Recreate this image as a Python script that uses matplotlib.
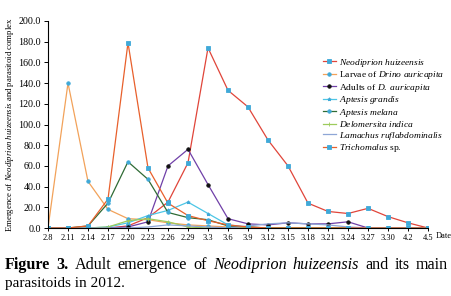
import matplotlib
matplotlib.use('Agg')
import matplotlib.pyplot as plt
import numpy as np

plt.rcParams['font.family'] = ['Liberation Serif', 'DejaVu Serif']
plt.rcParams['mathtext.fontset'] = 'custom'
plt.rcParams['mathtext.rm'] = 'Liberation Serif'
plt.rcParams['mathtext.it'] = 'Liberation Serif:italic'
plt.rcParams['mathtext.bf'] = 'Liberation Serif:bold'

dates = ['2.8', '2.11', '2.14', '2.17', '2.20', '2.23', '2.26', '2.29', '3.3', '3.6',
         '3.9', '3.12', '3.15', '3.18', '3.21', '3.24', '3.27', '3.30', '4.2', '4.5']

neodiprion = [0, 0, 0, 0, 2, 10, 25, 63, 174, 133, 117, 85, 60, 24, 16, 14, 19, 11, 5, 0]
drino_larvae = [0, 140, 45, 18, 9, 8, 5, 3, 2, 1, 0, 0, 0, 0, 0, 0, 0, 0, 0, 0]
drino_adults = [0, 0, 0, 0, 1, 6, 60, 76, 42, 9, 4, 3, 5, 4, 4, 6, 0, 0, 0, 0]
aptesis_grandis = [0, 0, 0, 1, 5, 12, 17, 25, 14, 3, 1, 0, 0, 0, 0, 0, 0, 0, 0, 0]
aptesis_melana = [0, 0, 2, 24, 64, 47, 15, 10, 8, 2, 1, 0, 0, 0, 0, 0, 0, 0, 0, 0]
delomersita = [0, 0, 0, 1, 7, 9, 6, 1, 0, 0, 0, 0, 0, 0, 0, 0, 0, 0, 0, 0]
lamachus = [0, 0, 0, 0, 0, 1, 3, 2, 1, 0, 2, 4, 5, 4, 3, 1, 0, 0, 0, 0]
trichomalus = [0, 0, 2, 28, 179, 58, 24, 12, 7, 3, 1, 0, 0, 0, 0, 0, 0, 0, 0, 0]

series = [
    (neodiprion, r'$\mathit{Neodiprion\ huizeensis}$', '#e0453a', 's', '#3fa9d8'),
    (drino_larvae, r'Larvae of $\mathit{Drino\ auricapita}$', '#f2a25a', 'o', '#3fa9d8'),
    (drino_adults, r'Adults of $\mathit{D.\ auricapita}$', '#7040a8', 'o', '#111111'),
    (aptesis_grandis, r'$\mathit{Aptesis\ grandis}$', '#4cc6e6', '*', '#3fa9d8'),
    (aptesis_melana, r'$\mathit{Aptesis\ melana}$', '#2f6b35', 'o', '#3fa9d8'),
    (delomersita, r'$\mathit{Delomersita\ indica}$', '#9dcb5c', '+', '#9dcb5c'),
    (lamachus, r'$\mathit{Lamachus\ ruflabdominalis}$', '#8ea6d6', '', '#8ea6d6'),
    (trichomalus, r'$\mathit{Trichomalus}$ sp.', '#e8602c', 's', '#3fa9d8'),
]

fig = plt.figure(figsize=(4.52, 2.96), dpi=100)
ax = fig.add_axes([48 / 452, 1 - 228 / 296, 380 / 452, 207 / 296])

x = np.arange(len(dates))
for vals, label, color, marker, mcolor in series:
    ax.plot(x, vals, color=color, lw=0.9, marker=marker if marker else None,
            markersize=2.5, markerfacecolor=mcolor, markeredgecolor=mcolor,
            markeredgewidth=0.6, label=label)

ax.set_xlim(0, len(dates) - 1)
ax.set_ylim(0, 200)
ax.set_yticks(np.arange(0, 201, 20))
ax.set_yticklabels(['%.1f' % v for v in np.arange(0, 201, 20)], fontsize=7.2)
ax.set_xticks(x)
ax.set_xticklabels(dates, fontsize=6)
ax.tick_params(axis='y', length=3, width=0.7, pad=2)
ax.tick_params(axis='x', length=2, width=0.7, pad=2)
for s in ['top', 'right']:
    ax.spines[s].set_visible(False)
for s in ['left', 'bottom']:
    ax.spines[s].set_linewidth(0.8)

fig.text(10 / 452, 1 - 125 / 296,
         r'Emergence of $\mathit{Neodiprion\ huizeensis}$ and parasitoid complex',
         rotation=90, fontsize=6.3, ha='center', va='center')
fig.text(436 / 452, 1 - 236 / 296, 'Date', fontsize=6, ha='left', va='center')

ax.legend(loc='upper left', bbox_to_anchor=(318 / 452, 1 - 52 / 296),
          bbox_transform=fig.transFigure, frameon=False, fontsize=6.8,
          handlelength=1.4, handletextpad=0.3, labelspacing=0.05, borderpad=0)

# caption, first line justified word by word
renderer = fig.canvas.get_renderer()
words = [('Figure', 'bold', 'normal'), ('3.', 'bold', 'normal'),
         ('Adult', 'normal', 'normal'), ('emergence', 'normal', 'normal'),
         ('of', 'normal', 'normal'), ('Neodiprion', 'normal', 'italic'),
         ('huizeensis', 'normal', 'italic'), ('and', 'normal', 'normal'),
         ('its', 'normal', 'normal'), ('main', 'normal', 'normal')]
x0, x1 = 5, 448
y1 = 1 - 265 / 296
texts = []
for w, wt, st in words:
    t = fig.text(0, y1, w, fontsize=11.6, fontweight=wt, fontstyle=st, va='center')
    texts.append(t)
widths = [t.get_window_extent(renderer).width for t in texts]
gap = (x1 - x0 - sum(widths)) / (len(words) - 1)
pos = x0
for t, wd in zip(texts, widths):
    t.set_x(pos / 452)
    pos += wd + gap
fig.text(x0 / 452, 1 - 283 / 296, 'parasitoids in 2012.', fontsize=11, va='center')

fig.savefig('out.png', dpi=100)
